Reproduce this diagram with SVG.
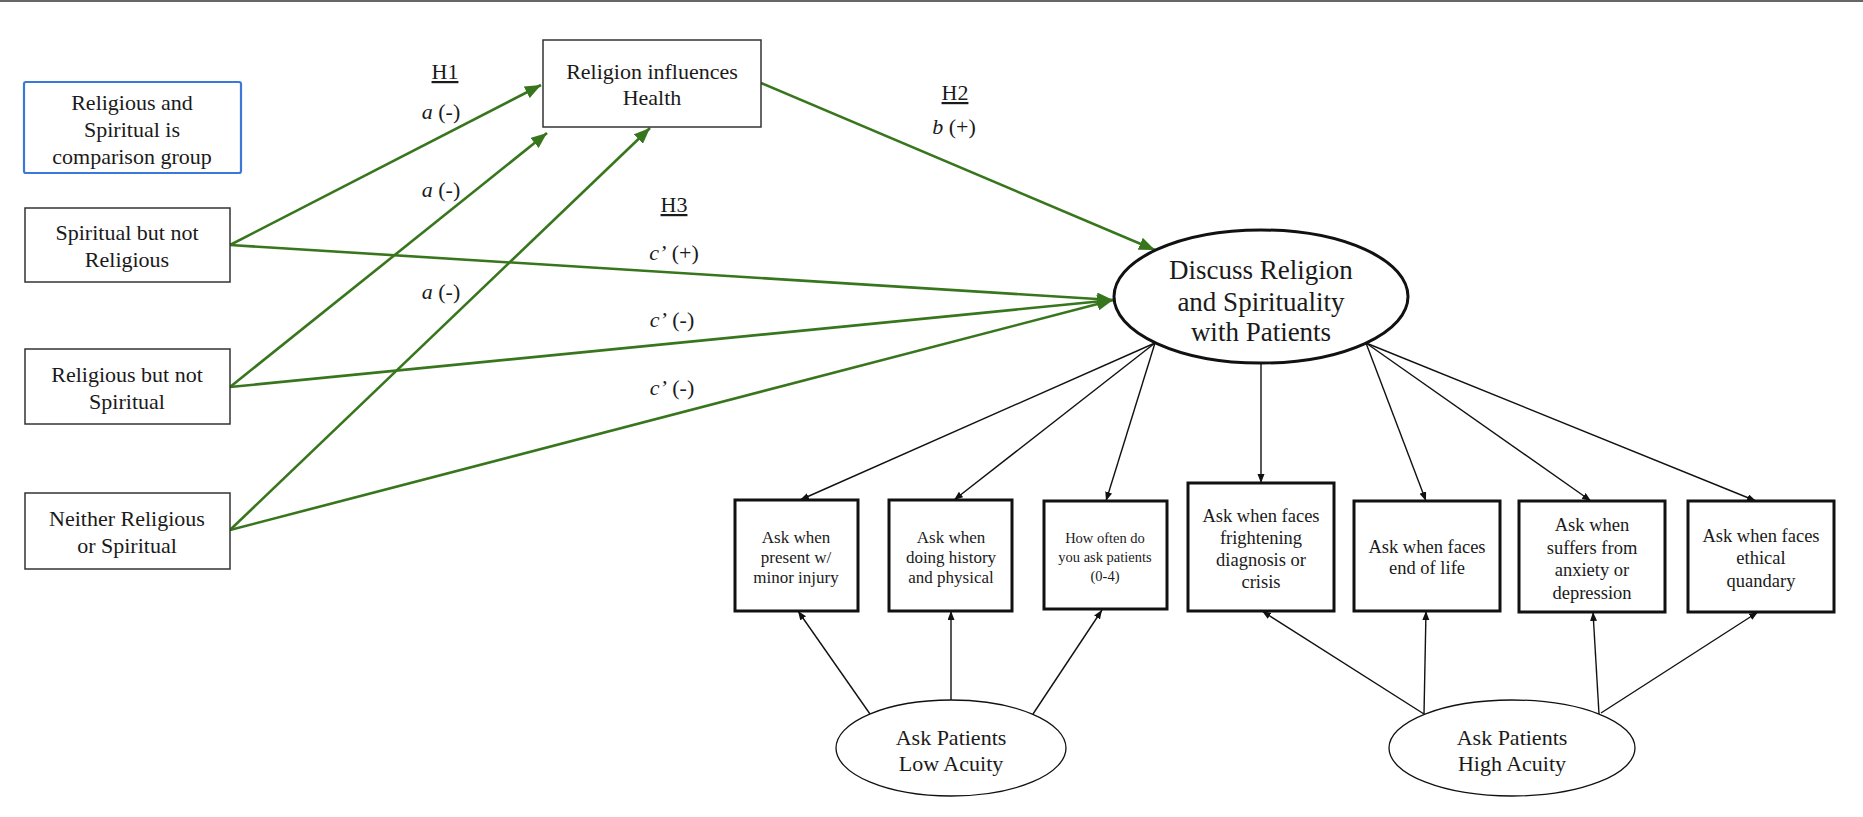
<svg xmlns="http://www.w3.org/2000/svg" width="1863" height="817" viewBox="0 0 1863 817">
<style>
text{font-family:"Liberation Serif","Times New Roman",serif;fill:#1a1a1a;text-anchor:middle}
.lbl{font-size:22px}
.big{font-size:27px}
.sm17{font-size:17px}
.sm14{font-size:14.5px}
.sm18{font-size:18.5px}
.box{fill:#fff;stroke:#333;stroke-width:1.5}
.tbox{fill:#fff;stroke:#111;stroke-width:3}
.g{stroke:#38761d;stroke-width:2.6;fill:none}
.k{stroke:#111;stroke-width:1.4;fill:none}
.u{text-decoration:underline}
</style>
<defs>
<marker id="ga" markerUnits="userSpaceOnUse" markerWidth="17" markerHeight="13" refX="16" refY="6.5" orient="auto"><path d="M0,0 L16,6.5 L0,13 z" fill="#38761d"/></marker>
<marker id="ka" markerUnits="userSpaceOnUse" markerWidth="10" markerHeight="8" refX="9" refY="3.5" orient="auto"><path d="M0,0 L9,3.5 L0,7 z" fill="#111"/></marker>
</defs>
<rect x="0" y="0" width="1863" height="2" fill="#666"/>

<g id="connectors">
<line class="g" x1="230" y1="245" x2="541" y2="85" marker-end="url(#ga)"/>
<line class="g" x1="230" y1="387" x2="547" y2="133" marker-end="url(#ga)"/>
<line class="g" x1="230" y1="530" x2="650" y2="128" marker-end="url(#ga)"/>
<line class="g" x1="761" y1="83" x2="1155" y2="250" marker-end="url(#ga)"/>
<line class="g" x1="230" y1="245" x2="1113" y2="300" marker-end="url(#ga)"/>
<line class="g" x1="230" y1="387" x2="1113" y2="300" marker-end="url(#ga)"/>
<line class="g" x1="230" y1="530" x2="1113" y2="300" marker-end="url(#ga)"/>

<line class="k" x1="1155" y1="343" x2="800" y2="500" marker-end="url(#ka)"/>
<line class="k" x1="1155" y1="343" x2="954" y2="500" marker-end="url(#ka)"/>
<line class="k" x1="1155" y1="343" x2="1106" y2="501" marker-end="url(#ka)"/>
<line class="k" x1="1261" y1="364" x2="1261" y2="483" marker-end="url(#ka)"/>
<line class="k" x1="1366" y1="343" x2="1426" y2="501" marker-end="url(#ka)"/>
<line class="k" x1="1366" y1="343" x2="1591" y2="501" marker-end="url(#ka)"/>
<line class="k" x1="1366" y1="343" x2="1756" y2="501" marker-end="url(#ka)"/>

<line class="k" x1="870" y1="714" x2="798" y2="611" marker-end="url(#ka)"/>
<line class="k" x1="951" y1="700" x2="951" y2="611" marker-end="url(#ka)"/>
<line class="k" x1="1033" y1="714" x2="1102" y2="610" marker-end="url(#ka)"/>
<line class="k" x1="1424" y1="714" x2="1262" y2="611" marker-end="url(#ka)"/>
<line class="k" x1="1424" y1="714" x2="1426" y2="611" marker-end="url(#ka)"/>
<line class="k" x1="1599" y1="714" x2="1593" y2="612" marker-end="url(#ka)"/>
<line class="k" x1="1601" y1="713" x2="1758" y2="612" marker-end="url(#ka)"/>

<text class="lbl u" x="445" y="79">H1</text>
<text class="lbl" x="441" y="119"><tspan font-style="italic">a</tspan> (-)</text>
<text class="lbl" x="441" y="197"><tspan font-style="italic">a</tspan> (-)</text>
<text class="lbl" x="441" y="299"><tspan font-style="italic">a</tspan> (-)</text>
<text class="lbl u" x="955" y="100">H2</text>
<text class="lbl" x="954" y="134"><tspan font-style="italic">b</tspan> (+)</text>
<text class="lbl u" x="674" y="212">H3</text>
<text class="lbl" x="674" y="260"><tspan font-style="italic">c’</tspan> (+)</text>
<text class="lbl" x="672" y="327"><tspan font-style="italic">c’</tspan> (-)</text>
<text class="lbl" x="672" y="395"><tspan font-style="italic">c’</tspan> (-)</text>
</g>

<g id="comparison">
<rect x="24" y="82" width="217" height="91" rx="2" fill="#fff" stroke="#3c78d8" stroke-width="2.2"/>
<text class="lbl" x="132" y="110">Religious and</text>
<text class="lbl" x="132" y="137">Spiritual is</text>
<text class="lbl" x="132" y="164">comparison group</text>
</g>
<g id="sbnr">
<rect class="box" x="25" y="208" width="205" height="74"/>
<text class="lbl" x="127" y="240">Spiritual but not</text>
<text class="lbl" x="127" y="267">Religious</text>
</g>
<g id="rbns">
<rect class="box" x="25" y="349" width="205" height="75"/>
<text class="lbl" x="127" y="382">Religious but not</text>
<text class="lbl" x="127" y="409">Spiritual</text>
</g>
<g id="neither">
<rect class="box" x="25" y="493" width="205" height="76"/>
<text class="lbl" x="127" y="526">Neither Religious</text>
<text class="lbl" x="127" y="553">or Spiritual</text>
</g>
<g id="religion-health">
<rect class="box" x="543" y="40" width="218" height="87"/>
<text class="lbl" x="652" y="79">Religion influences</text>
<text class="lbl" x="652" y="105">Health</text>
</g>
<g id="discuss">
<ellipse cx="1261" cy="296.5" rx="147" ry="66.5" fill="#fff" stroke="#111" stroke-width="3"/>
<text class="big" x="1261" y="279">Discuss Religion</text>
<text class="big" x="1261" y="311">and Spirituality</text>
<text class="big" x="1261" y="341">with Patients</text>
</g>
<g id="box1">
<rect class="tbox" x="735" y="500" width="123" height="111"/>
<text class="sm17" x="796" y="543">Ask when</text>
<text class="sm17" x="796" y="563">present w/</text>
<text class="sm17" x="796" y="583">minor injury</text>
</g>
<g id="box2">
<rect class="tbox" x="889" y="500" width="123" height="111"/>
<text class="sm17" x="951" y="543">Ask when</text>
<text class="sm17" x="951" y="563">doing history</text>
<text class="sm17" x="951" y="583">and physical</text>
</g>
<g id="box3">
<rect class="tbox" x="1044" y="501" width="123" height="108"/>
<text class="sm14" x="1105" y="543">How often do</text>
<text class="sm14" x="1105" y="562">you ask patients</text>
<text class="sm14" x="1105" y="581">(0-4)</text>
</g>
<g id="box4">
<rect class="tbox" x="1188" y="483" width="146" height="128"/>
<text class="sm18" x="1261" y="521.5">Ask when faces</text>
<text class="sm18" x="1261" y="543.5">frightening</text>
<text class="sm18" x="1261" y="566">diagnosis or</text>
<text class="sm18" x="1261" y="588">crisis</text>
</g>
<g id="box5">
<rect class="tbox" x="1354" y="501" width="146" height="110"/>
<text class="sm18" x="1427" y="552.5">Ask when faces</text>
<text class="sm18" x="1427" y="573.5">end of life</text>
</g>
<g id="box6">
<rect class="tbox" x="1519" y="501" width="146" height="111"/>
<text class="sm18" x="1592" y="530.5">Ask when</text>
<text class="sm18" x="1592" y="553.5">suffers from</text>
<text class="sm18" x="1592" y="575.5">anxiety or</text>
<text class="sm18" x="1592" y="598.5">depression</text>
</g>
<g id="box7">
<rect class="tbox" x="1688" y="501" width="146" height="111"/>
<text class="sm18" x="1761" y="541.5">Ask when faces</text>
<text class="sm18" x="1761" y="563.5">ethical</text>
<text class="sm18" x="1761" y="586.5">quandary</text>
</g>
<g id="low-acuity">
<ellipse cx="951" cy="748" rx="115" ry="48" fill="#fff" stroke="#111" stroke-width="1.3"/>
<text class="lbl" x="951" y="745">Ask Patients</text>
<text class="lbl" x="951" y="771">Low Acuity</text>
</g>
<g id="high-acuity">
<ellipse cx="1512" cy="748" rx="123" ry="48" fill="#fff" stroke="#111" stroke-width="1.3"/>
<text class="lbl" x="1512" y="745">Ask Patients</text>
<text class="lbl" x="1512" y="771">High Acuity</text>
</g>
</svg>
